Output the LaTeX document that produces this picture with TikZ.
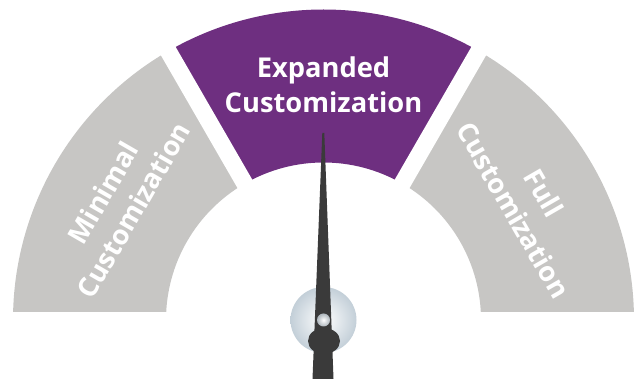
\documentclass[tikz,border=0pt]{standalone}
\usepackage{fontspec}
\setmainfont{Open Sans}
\usetikzlibrary{calc}
\definecolor{gaugepurple}{HTML}{6E2F80}
\definecolor{gaugegray}{HTML}{C7C6C4}
\definecolor{needlegray}{HTML}{3A3A3A}
\definecolor{hubblue}{HTML}{C3CFD8}
\begin{document}
\begin{tikzpicture}[x=1pt, y=1pt,
  ringpart/.style={fill=#1},
  ringtext/.style={text=white, align=center, inner sep=0pt,
    font=\fontsize{27.3}{35}\selectfont\bfseries}]
  \useasboundingbox (0,0) rectangle (639,379);
  \coordinate (hub) at (323.5,59);

  % Three ring segments, cut flat at the bottom
  \begin{scope}[shift={(hub)}]
    \clip (-330,8) rectangle (330,330);
    \foreach \a/\c in {0/gaugegray, 60/gaugepurple, 120/gaugegray} {
      \fill[ringpart=\c] (\a:310.5) arc[start angle=\a, end angle=\a+60, radius=310.5]
        -- (\a+60:157.5) arc[start angle=\a+60, end angle=\a, radius=157.5] -- cycle;
    }
    % White gaps between the segments
    \foreach \a in {60,120} {
      \draw[white, line width=17pt] (\a:140) -- (\a:330);
    }
  \end{scope}

  % Labels
  \node[ringtext] (expanded) at ($(hub)+(90:235.5)$) {Expanded\\Customization};
  \node[ringtext, rotate=60] (minimal) at ($(hub)+(150:237)$) {Minimal\\Customization};
  \node[ringtext, rotate=-60] (full) at ($(hub)+(30:237)$) {Full\\Customization};

  % Hub and needle
  \shade[inner color=white, outer color=hubblue] (hub) circle (33);
  \fill[needlegray] (322.3,246) -- (324.3,246) -- (333.5,0) -- (312.5,0) -- cycle; % Needle
  \fill[needlegray] ($(hub)+(0.5,-21)$) ellipse (16 and 13); % Counterweight
  \shade[inner color=white, outer color=hubblue!70!gray] (hub) circle (6.5); % Pin
\end{tikzpicture}
\end{document}
